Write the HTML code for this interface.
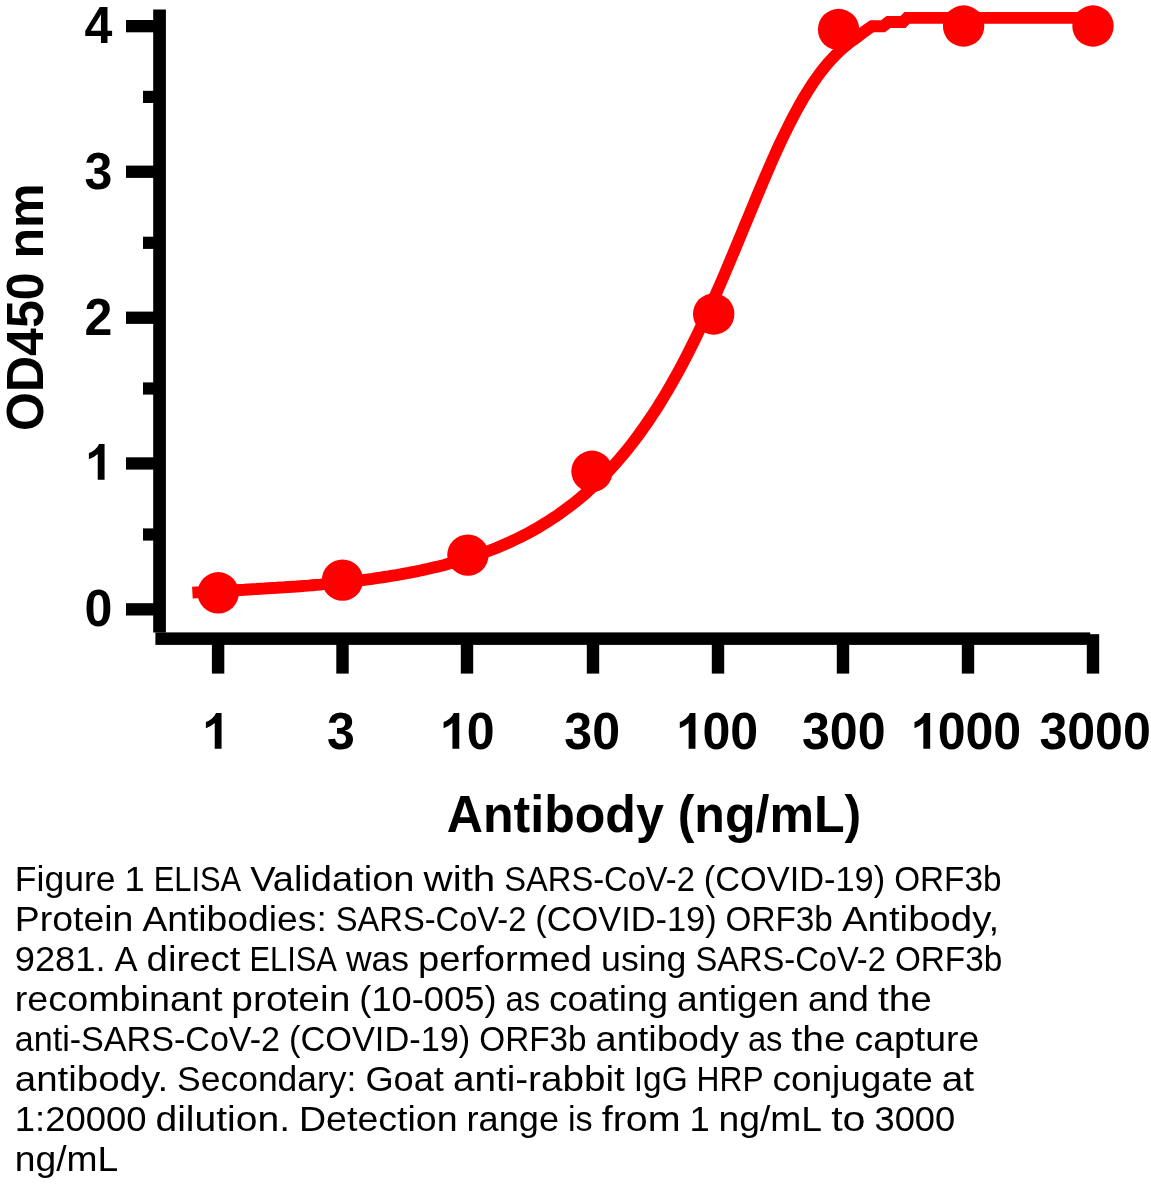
<!DOCTYPE html>
<html>
<head>
<meta charset="utf-8">
<title>ELISA chart</title>
<style>
html,body{margin:0;padding:0;background:#fff;}
body{width:1151px;height:1191px;overflow:hidden;position:relative;font-family:"Liberation Sans",sans-serif;}
svg{display:block;position:absolute;left:0;top:0;will-change:transform;}
.ax{fill:#000;}
.lbl{font-family:"Liberation Sans",sans-serif;font-weight:bold;fill:#000;}
.cap{font-family:"Liberation Sans",sans-serif;fill:#000;font-size:35.4px;}
</style>
</head>
<body>
<svg width="1151" height="1191" viewBox="0 0 1151 1191">
<rect x="0" y="0" width="1151" height="1191" fill="#fff"/>
<!-- axes -->
<rect class="ax" x="153.2" y="9.5" width="12.7" height="623"/>
<rect class="ax" x="155.4" y="632.4" width="934.8" height="12.5"/>

<!-- y major ticks -->
<rect class="ax" x="126" y="20" width="28" height="12.3"/>
<rect class="ax" x="126" y="165.6" width="28" height="12.3"/>
<rect class="ax" x="126" y="311.6" width="28" height="12.3"/>
<rect class="ax" x="126" y="457.3" width="28" height="12.3"/>
<rect class="ax" x="126" y="603.2" width="28" height="12.3"/>
<!-- y minor ticks -->
<rect class="ax" x="143" y="90.8" width="11" height="12.2"/>
<rect class="ax" x="143" y="236.7" width="11" height="12.2"/>
<rect class="ax" x="143" y="382.4" width="11" height="12.2"/>
<rect class="ax" x="143" y="528.4" width="11" height="12.2"/>
<!-- x ticks -->
<rect class="ax" x="211.9" y="644" width="12.4" height="29.6"/>
<rect class="ax" x="336.3" y="644" width="12.4" height="29.6"/>
<rect class="ax" x="460.8" y="644" width="12.4" height="29.6"/>
<rect class="ax" x="586.8" y="644" width="12.4" height="29.6"/>
<rect class="ax" x="711.8" y="644" width="12.4" height="29.6"/>
<rect class="ax" x="836.8" y="644" width="12.4" height="29.6"/>
<rect class="ax" x="961.8" y="644" width="12.4" height="29.6"/>
<rect class="ax" x="1086.8" y="634.2" width="12.4" height="39.4"/>
<!-- y labels -->
<g class="lbl" font-size="52.5" text-anchor="end">
<text transform="translate(112.4,43) scale(0.954,1)">4</text>
<text transform="translate(112.4,188.6) scale(0.954,1)">3</text>
<text transform="translate(112.4,334.6) scale(0.954,1)">2</text>
<path class="ax" d="M104.56,479.80 L97.73,479.80 L97.73,454.04 Q93.98,457.55 88.90,459.22 L88.90,453.02 Q91.58,452.15 94.71,449.70 Q97.85,447.26 99.02,444.00 L104.56,444.00 Z"/>
<text transform="translate(112.4,625.6) scale(0.954,1)">0</text>
</g>
<!-- x labels -->
<g class="lbl" font-size="52.5">
<path class="ax" d="M221.56,748.80 L214.73,748.80 L214.73,723.04 Q210.98,726.55 205.90,728.22 L205.90,722.02 Q208.58,721.15 211.71,718.70 Q214.85,716.26 216.02,713.00 L221.56,713.00 Z"/>
<text text-anchor="middle" transform="translate(341.0,749) scale(0.954,1)">3</text>
<path class="ax" d="M459.26,748.80 L452.43,748.80 L452.43,723.04 Q448.68,726.55 443.60,728.22 L443.60,722.02 Q446.28,721.15 449.41,718.70 Q452.55,716.26 453.72,713.00 L459.26,713.00 Z"/>
<text text-anchor="end" transform="translate(494.5,749) scale(0.954,1)">0</text>
<text text-anchor="middle" transform="translate(592.2,749) scale(0.954,1)">30</text>
<path class="ax" d="M695.46,748.80 L688.63,748.80 L688.63,723.04 Q684.88,726.55 679.80,728.22 L679.80,722.02 Q682.48,721.15 685.61,718.70 Q688.75,716.26 689.92,713.00 L695.46,713.00 Z"/>
<text text-anchor="end" transform="translate(758.1,749) scale(0.954,1)">00</text>
<text text-anchor="middle" transform="translate(843.8,749) scale(0.954,1)">300</text>
<path class="ax" d="M930.16,748.80 L923.33,748.80 L923.33,723.04 Q919.58,726.55 914.50,728.22 L914.50,722.02 Q917.18,721.15 920.31,718.70 Q923.45,716.26 924.62,713.00 L930.16,713.00 Z"/>
<text text-anchor="end" transform="translate(1021.2,749) scale(0.954,1)">000</text>
<text text-anchor="middle" transform="translate(1095.1,749) scale(0.954,1)">3000</text>
</g>
<text class="lbl" font-size="52.5" text-anchor="middle" transform="translate(654,832) scale(0.954,1)">Antibody (ng/mL)</text>
<text class="lbl" font-size="52.5" text-anchor="middle" transform="translate(42.8,307.2) rotate(-90) scale(0.954,1)">OD450 nm</text>
<!-- curve -->
<polyline fill="none" stroke="#ff0000" stroke-width="11.9" stroke-linejoin="miter" stroke-linecap="butt" points="192.4,592.6 196.4,592.4 200.4,592.2 204.4,592.0 208.4,591.8 212.4,591.6 216.4,591.4 220.4,591.2 224.4,591.0 228.4,590.7 232.4,590.5 236.4,590.3 240.4,590.0 244.4,589.8 248.4,589.5 252.4,589.2 256.4,589.0 260.4,588.7 264.4,588.5 268.4,588.2 272.4,588.0 276.4,587.8 280.4,587.5 284.4,587.3 288.4,587.0 292.4,586.7 296.4,586.5 300.4,586.2 304.4,585.9 308.4,585.6 312.4,585.2 316.4,584.9 320.4,584.6 324.4,584.2 328.4,583.8 332.4,583.4 336.4,583.0 340.4,582.6 344.4,582.2 348.4,581.8 352.4,581.3 356.4,580.8 360.4,580.3 364.4,579.8 368.4,579.3 372.4,578.8 376.4,578.2 380.4,577.6 384.4,577.0 388.4,576.4 392.4,575.7 396.4,575.1 400.4,574.4 404.4,573.6 408.4,572.9 412.4,572.1 416.4,571.3 420.4,570.5 424.4,569.6 428.4,568.8 432.4,567.8 436.4,566.9 440.4,565.9 444.4,564.9 448.4,563.8 452.4,562.7 456.4,561.6 460.4,560.5 464.4,559.2 468.4,558.0 472.4,556.7 476.4,555.3 480.4,554.0 484.4,552.5 488.4,551.0 492.4,549.5 496.4,547.9 500.4,546.2 504.4,544.5 508.4,542.8 512.4,540.9 516.4,539.0 520.4,537.1 524.4,535.0 528.4,532.9 532.4,530.7 536.4,528.5 540.4,526.1 544.4,523.7 548.4,521.2 552.4,518.6 556.4,516.0 560.4,513.2 564.4,510.3 568.4,507.3 572.4,504.3 576.4,501.1 580.4,497.8 584.4,494.4 588.4,490.8 592.4,487.2 596.4,483.4 600.4,479.5 604.4,475.5 608.4,471.3 612.4,467.0 616.4,462.5 620.4,457.9 624.4,453.1 628.4,448.2 632.4,443.1 636.4,437.8 640.4,432.4 644.4,426.8 648.4,421.0 652.4,415.0 656.4,408.9 660.4,402.5 664.4,396.0 668.4,389.2 672.4,382.3 676.4,375.1 680.4,367.8 684.4,360.2 688.4,352.5 692.4,344.5 696.4,336.4 700.4,328.0 704.4,319.5 708.4,310.8 712.4,302.0 716.4,292.9 720.4,283.8 724.4,274.5 728.4,265.0 732.4,255.5 736.4,245.9 740.4,236.3 744.4,226.6 748.4,216.9 752.4,207.2 756.4,197.6 760.4,188.1 764.4,178.6 768.4,169.3 772.4,160.2 776.4,151.3 780.4,142.6 784.4,134.2 788.4,126.1 792.4,118.2 796.4,110.7 800.4,103.5 804.4,96.6 808.4,90.1 812.4,83.9 816.4,78.1 820.4,72.6 824.4,67.5 828.4,62.7 832.4,58.3 836.4,54.2 840.4,50.3 844.4,46.8 848.4,43.6 852.4,40.6 856.4,37.8 864.0,31.8 872.0,26.2 883.0,26.2 888.5,22.0 903.0,22.0 907.0,17.9 1093.0,17.9"/>
<g fill="#ff0000">
<circle cx="218.2" cy="592.8" r="20.7"/>
<circle cx="342.5" cy="580.1" r="20.7"/>
<circle cx="467.9" cy="555.1" r="20.7"/>
<circle cx="592" cy="471.3" r="20.7"/>
<circle cx="713.7" cy="314" r="20.7"/>
<circle cx="838.6" cy="29.5" r="20.7"/>
<circle cx="963.6" cy="26" r="20.7"/>
<circle cx="1093" cy="26" r="20.7"/>
</g>
<!-- caption -->
<g class="cap">
<text x="14.8" y="890.8" textLength="100.7" lengthAdjust="spacingAndGlyphs">Figure</text>
<text x="124.5" y="890.8" textLength="20.2" lengthAdjust="spacingAndGlyphs">1</text>
<text x="153.7" y="890.8" textLength="87.5" lengthAdjust="spacingAndGlyphs">ELISA</text>
<text x="250.2" y="890.8" textLength="164.3" lengthAdjust="spacingAndGlyphs">Validation</text>
<text x="423.5" y="890.8" textLength="71.8" lengthAdjust="spacingAndGlyphs">with</text>
<text x="504.3" y="890.8" textLength="190.5" lengthAdjust="spacingAndGlyphs">SARS-CoV-2</text>
<text x="703.8" y="890.8" textLength="181.3" lengthAdjust="spacingAndGlyphs">(COVID-19)</text>
<text x="894.2" y="890.8" textLength="107.3" lengthAdjust="spacingAndGlyphs">ORF3b</text>
<text x="14.8" y="930.8" textLength="118.6" lengthAdjust="spacingAndGlyphs">Protein</text>
<text x="142.4" y="930.8" textLength="184.4" lengthAdjust="spacingAndGlyphs">Antibodies:</text>
<text x="335.8" y="930.8" textLength="190.5" lengthAdjust="spacingAndGlyphs">SARS-CoV-2</text>
<text x="535.3" y="930.8" textLength="181.3" lengthAdjust="spacingAndGlyphs">(COVID-19)</text>
<text x="725.6" y="930.8" textLength="107.3" lengthAdjust="spacingAndGlyphs">ORF3b</text>
<text x="842.0" y="930.8" textLength="157.2" lengthAdjust="spacingAndGlyphs">Antibody,</text>
<text x="14.8" y="970.8" textLength="90.7" lengthAdjust="spacingAndGlyphs">9281.</text>
<text x="114.5" y="970.8" textLength="23.0" lengthAdjust="spacingAndGlyphs">A</text>
<text x="146.6" y="970.8" textLength="93.9" lengthAdjust="spacingAndGlyphs">direct</text>
<text x="249.4" y="970.8" textLength="87.5" lengthAdjust="spacingAndGlyphs">ELISA</text>
<text x="345.9" y="970.8" textLength="63.1" lengthAdjust="spacingAndGlyphs">was</text>
<text x="418.0" y="970.8" textLength="174.1" lengthAdjust="spacingAndGlyphs">performed</text>
<text x="601.1" y="970.8" textLength="85.3" lengthAdjust="spacingAndGlyphs">using</text>
<text x="695.4" y="970.8" textLength="190.5" lengthAdjust="spacingAndGlyphs">SARS-CoV-2</text>
<text x="894.9" y="970.8" textLength="107.3" lengthAdjust="spacingAndGlyphs">ORF3b</text>
<text x="14.8" y="1010.8" textLength="207.6" lengthAdjust="spacingAndGlyphs">recombinant</text>
<text x="231.3" y="1010.8" textLength="119.0" lengthAdjust="spacingAndGlyphs">protein</text>
<text x="359.3" y="1010.8" textLength="137.2" lengthAdjust="spacingAndGlyphs">(10-005)</text>
<text x="505.5" y="1010.8" textLength="34.6" lengthAdjust="spacingAndGlyphs">as</text>
<text x="549.1" y="1010.8" textLength="119.0" lengthAdjust="spacingAndGlyphs">coating</text>
<text x="677.1" y="1010.8" textLength="121.9" lengthAdjust="spacingAndGlyphs">antigen</text>
<text x="808.0" y="1010.8" textLength="60.9" lengthAdjust="spacingAndGlyphs">and</text>
<text x="877.9" y="1010.8" textLength="54.0" lengthAdjust="spacingAndGlyphs">the</text>
<text x="14.8" y="1050.8" textLength="265.2" lengthAdjust="spacingAndGlyphs">anti-SARS-CoV-2</text>
<text x="289.0" y="1050.8" textLength="181.3" lengthAdjust="spacingAndGlyphs">(COVID-19)</text>
<text x="479.3" y="1050.8" textLength="107.3" lengthAdjust="spacingAndGlyphs">ORF3b</text>
<text x="595.6" y="1050.8" textLength="143.3" lengthAdjust="spacingAndGlyphs">antibody</text>
<text x="747.9" y="1050.8" textLength="34.6" lengthAdjust="spacingAndGlyphs">as</text>
<text x="791.5" y="1050.8" textLength="54.0" lengthAdjust="spacingAndGlyphs">the</text>
<text x="854.6" y="1050.8" textLength="124.7" lengthAdjust="spacingAndGlyphs">capture</text>
<text x="14.8" y="1090.8" textLength="153.3" lengthAdjust="spacingAndGlyphs">antibody.</text>
<text x="177.1" y="1090.8" textLength="179.3" lengthAdjust="spacingAndGlyphs">Secondary:</text>
<text x="365.4" y="1090.8" textLength="78.5" lengthAdjust="spacingAndGlyphs">Goat</text>
<text x="452.9" y="1090.8" textLength="171.9" lengthAdjust="spacingAndGlyphs">anti-rabbit</text>
<text x="633.8" y="1090.8" textLength="53.9" lengthAdjust="spacingAndGlyphs">IgG</text>
<text x="696.6" y="1090.8" textLength="67.0" lengthAdjust="spacingAndGlyphs">HRP</text>
<text x="772.6" y="1090.8" textLength="160.1" lengthAdjust="spacingAndGlyphs">conjugate</text>
<text x="941.7" y="1090.8" textLength="32.4" lengthAdjust="spacingAndGlyphs">at</text>
<text x="14.8" y="1130.8" textLength="131.7" lengthAdjust="spacingAndGlyphs">1:20000</text>
<text x="155.5" y="1130.8" textLength="134.5" lengthAdjust="spacingAndGlyphs">dilution.</text>
<text x="299.0" y="1130.8" textLength="158.6" lengthAdjust="spacingAndGlyphs">Detection</text>
<text x="466.6" y="1130.8" textLength="92.4" lengthAdjust="spacingAndGlyphs">range</text>
<text x="568.0" y="1130.8" textLength="24.7" lengthAdjust="spacingAndGlyphs">is</text>
<text x="601.7" y="1130.8" textLength="78.8" lengthAdjust="spacingAndGlyphs">from</text>
<text x="689.5" y="1130.8" textLength="20.2" lengthAdjust="spacingAndGlyphs">1</text>
<text x="718.6" y="1130.8" textLength="103.5" lengthAdjust="spacingAndGlyphs">ng/mL</text>
<text x="831.2" y="1130.8" textLength="34.3" lengthAdjust="spacingAndGlyphs">to</text>
<text x="874.5" y="1130.8" textLength="80.7" lengthAdjust="spacingAndGlyphs">3000</text>
<text x="14.8" y="1170.8" textLength="103.5" lengthAdjust="spacingAndGlyphs">ng/mL</text>
</g>
</svg>
</body>
</html>
